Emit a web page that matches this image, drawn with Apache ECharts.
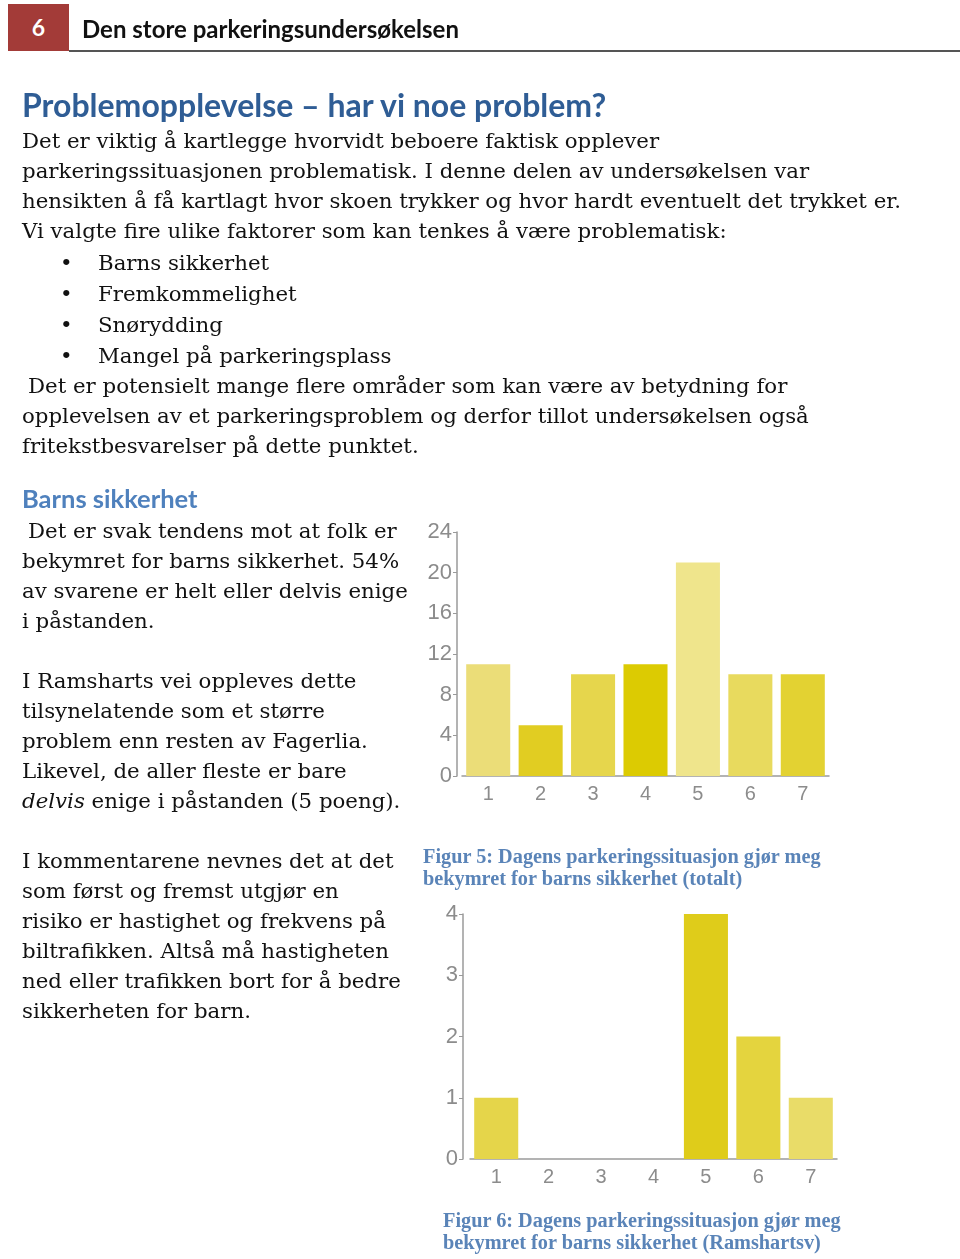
<!DOCTYPE html>
<html>
<head>
<meta charset="utf-8">
<script src="https://cdn.jsdelivr.net/npm/echarts@6/dist/echarts.min.js"></script>
<style>
  html, body { margin: 0; padding: 0; background: #fff; }
  #page { position: relative; width: 960px; height: 1259px; overflow: hidden; }
  #chart { position: absolute; left: 0; top: 0; width: 960px; height: 1259px; }
  .t { position: absolute; white-space: nowrap; font-family: "DejaVu Serif", serif; font-size: 21.3px; line-height: 30px; color: #111; }
  .h1 { font-family: Lato, "Open Sans", sans-serif; font-weight: bold; font-size: 32px; line-height: 40px; color: #2f5d95; }
  .h2 { font-family: Lato, "Open Sans", sans-serif; font-weight: bold; font-size: 25.5px; line-height: 30px; color: #4f81bd; }
  .cap { font-family: "Liberation Serif", serif; font-weight: bold; font-size: 20.3px; line-height: 22px; color: #5a84b8; }
  #numbox { position: absolute; left: 8px; top: 4px; width: 61px; height: 47px; background: #a33b38; color: #fff;
            font-family: Lato, sans-serif; font-weight: bold; font-size: 23px; line-height: 47px; text-align: center; }
  #hdr { position: absolute; left: 82px; top: 12px; font-family: Lato, "Open Sans", sans-serif; font-weight: bold; font-size: 24px; line-height: 34px; color: #111; white-space: nowrap; }
  #rule { position: absolute; left: 69px; top: 50px; width: 891px; height: 2px; background: #555; }
</style>
</head>
<body>
<div id="page">
  <div id="chart"></div>
  <div id="numbox">6</div>
  <div id="hdr">Den store parkeringsundersøkelsen</div>
  <div id="rule"></div>
  <div id="text"></div>
</div>
<script>
// ---- Data ----
const categories = ['1', '2', '3', '4', '5', '6', '7'];
const totalValues = [11, 5, 10, 11, 21, 10, 10];
const ramshartsValues = [1, 0, 0, 0, 4, 2, 1];
const totalTicks = [0, 4, 8, 12, 16, 20, 24];
const ramshartsTicks = [0, 1, 2, 3, 4];

// ---- Styles ----
const totalColors = ['#ebdd78', '#e1cd22', '#e6d64c', '#dccb02', '#efe58c', '#e8da5e', '#e3d232'];
const ramColors = ['#e5d54a', '#e2d044', '#e2d044', '#e2d044', '#dfcc1a', '#e4d43e', '#e9dc68'];

// ---- Text lines (layout) ----
const lines = [
  ['Problemopplevelse – har vi noe problem?', 22, 104, 'h1'],
  ['Det er viktig å kartlegge hvorvidt beboere faktisk opplever', 22, 140],
  ['parkeringssituasjonen problematisk. I denne delen av undersøkelsen var', 22, 170],
  ['hensikten å få kartlagt hvor skoen trykker og hvor hardt eventuelt det trykket er.', 22, 200],
  ['Vi valgte fire ulike faktorer som kan tenkes å være problematisk:', 22, 230],
  ['•', 60, 262], ['Barns sikkerhet', 98, 262],
  ['•', 60, 293], ['Fremkommelighet', 98, 293],
  ['•', 60, 324], ['Snørydding', 98, 324],
  ['•', 60, 355], ['Mangel på parkeringsplass', 98, 355],
  ['Det er potensielt mange flere områder som kan være av betydning for', 28, 385],
  ['opplevelsen av et parkeringsproblem og derfor tillot undersøkelsen også', 22, 415],
  ['fritekstbesvarelser på dette punktet.', 22, 445],
  ['Barns sikkerhet', 22, 497, 'h2'],
  ['Det er svak tendens mot at folk er', 28, 530],
  ['bekymret for barns sikkerhet. 54%', 22, 560],
  ['av svarene er helt eller delvis enige', 22, 590],
  ['i påstanden.', 22, 620],
  ['I Ramsharts vei oppleves dette', 22, 680],
  ['tilsynelatende som et større', 22, 710],
  ['problem enn resten av Fagerlia.', 22, 740],
  ['Likevel, de aller fleste er bare', 22, 770],
  ['<i>delvis</i> enige i påstanden (5 poeng).', 22, 800],
  ['I kommentarene nevnes det at det', 22, 860],
  ['som først og fremst utgjør en', 22, 890],
  ['risiko er hastighet og frekvens på', 22, 920],
  ['biltrafikken. Altså må hastigheten', 22, 950],
  ['ned eller trafikken bort for å bedre', 22, 980],
  ['sikkerheten for barn.', 22, 1010],
  ['Figur 5: Dagens parkeringssituasjon gjør meg', 423, 855, 'cap'],
  ['bekymret for barns sikkerhet (totalt)', 423, 877, 'cap'],
  ['Figur 6: Dagens parkeringssituasjon gjør meg', 443, 1219, 'cap'],
  ['bekymret for barns sikkerhet (Ramshartsv)', 443, 1241, 'cap']
];
const textRoot = document.getElementById('text');
lines.forEach(([txt, x, y, cls]) => {
  const d = document.createElement('div');
  d.className = 't' + (cls ? ' ' + cls : '');
  d.innerHTML = txt;
  textRoot.appendChild(d);
  const lh = parseFloat(getComputedStyle(d).lineHeight);
  d.style.left = x + 'px';
  d.style.top = (y + 1 - lh / 2) + 'px';
});

// ---- Chart ----
const axisGrey = '#9a9a9a';
const labelGrey = '#8c8c8c';
function xAxis(gridIndex) {
  return {
    type: 'category', gridIndex, data: categories,
    axisLine: { lineStyle: { color: axisGrey, width: 1.5 } },
    axisTick: { alignWithLabel: true, length: 5, lineStyle: { color: axisGrey } },
    axisLabel: { color: labelGrey, fontFamily: 'Liberation Sans', fontSize: 20, margin: 8 }
  };
}
function yAxis(gridIndex, ticks, offset) {
  return {
    type: 'value', gridIndex, offset,
    min: ticks[0], max: ticks[ticks.length - 1], interval: ticks[1] - ticks[0],
    axisLine: { show: true, lineStyle: { color: axisGrey, width: 1.5 } },
    axisTick: { show: true, length: 4, lineStyle: { color: axisGrey } },
    splitLine: { show: false },
    axisLabel: { color: labelGrey, fontFamily: 'Liberation Sans', fontSize: 22, margin: 5 }
  };
}
const chart = echarts.init(document.getElementById('chart'), null, { renderer: 'canvas' });
chart.setOption({
  animation: false,
  grid: [
    { left: 462, top: 532, right: 131, bottom: 1259 - 776 },
    { left: 470, top: 914, right: 123, bottom: 1259 - 1159 }
  ],
  xAxis: [xAxis(0), xAxis(1)],
  yAxis: [yAxis(0, totalTicks, 5), yAxis(1, ramshartsTicks, 7)],
  series: [
    {
      type: 'bar', xAxisIndex: 0, yAxisIndex: 0, barCategoryGap: '16%',
      data: totalValues.map((v, i) => ({ value: v, itemStyle: { color: totalColors[i] } }))
    },
    {
      type: 'bar', xAxisIndex: 1, yAxisIndex: 1, barCategoryGap: '16%',
      data: ramshartsValues.map((v, i) => ({ value: v, itemStyle: { color: ramColors[i] } }))
    }
  ]
});
</script>
</body>
</html>
